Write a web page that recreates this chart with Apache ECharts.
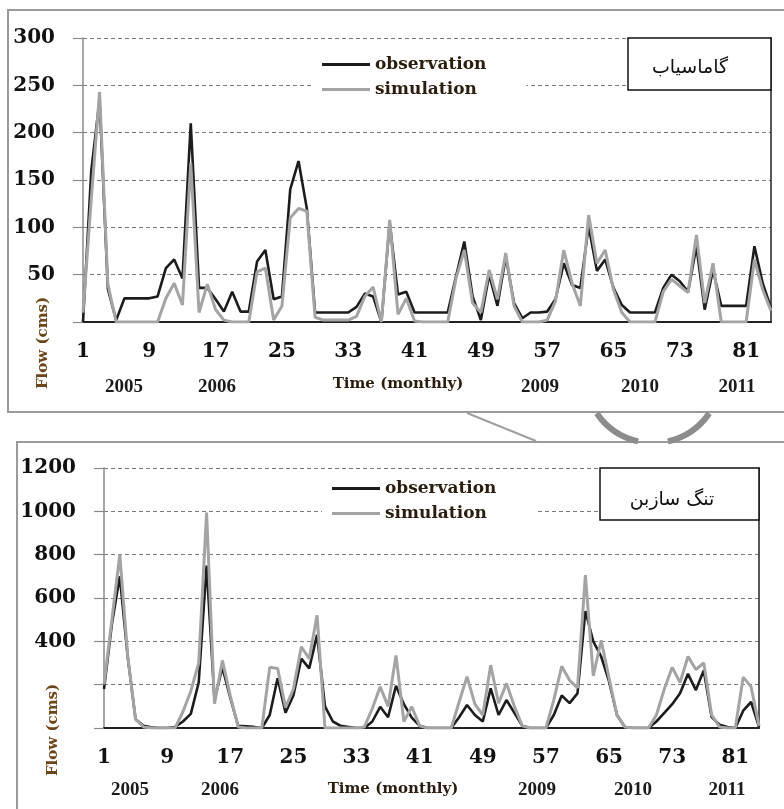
<!DOCTYPE html>
<html><head><meta charset="utf-8">
<script src="https://cdn.jsdelivr.net/npm/echarts@6/dist/echarts.min.js"></script>
<style>html,body{margin:0;padding:0;background:#fff}#c{width:784px;height:809px}</style>
</head><body><div id="c"></div>
<script>
const months = [1,2,3,4,5,6,7,8,9,10,11,12,13,14,15,16,17,18,19,20,21,22,23,24,25,26,27,28,29,30,31,32,33,34,35,36,37,38,39,40,41,42,43,44,45,46,47,48,49,50,51,52,53,54,55,56,57,58,59,60,61,62,63,64,65,66,67,68,69,70,71,72,73,74,75,76,77,78,79,80,81,82,83,84];
const seriesNames = ['observation', 'simulation'];
const stationTop = 'گاماسیاب';
const stationBottom = 'تنگ سازبن';
const yearLabels = ['2005', '2006', '2009', '2010', '2011'];
const xTitle = 'Time (monthly)';
const yTitle = 'Flow (cms)';

const gamasiabObs = [0,160,235,35,2,25,25,25,25,27, 57,66,46,210,36,36,24,11,32,11, 11,64,76,24,27,140,170,120,10,10, 10,10,10,16,30,27,0,105,29,32, 10,10,10,10,10,48,85,27,2,50, 17,69,20,4,10,10,11,24,62,39, 36,101,54,66,36,18,10,10,10,10, 36,50,43,32,80,13,55,17,17,17, 17,80,41,15];
const gamasiabSim = [10,130,243,40,0,0,0,0,0,0, 25,41,18,168,10,40,13,2,0,0, 0,53,57,2,17,110,120,117,5,2, 2,2,2,6,27,37,0,108,8,25, 1,0,0,0,0,46,76,20,10,55, 24,73,17,0,0,0,2,22,76,41, 17,113,62,76,34,10,0,0,0,0, 32,45,38,31,92,20,62,0,0,0, 0,66,34,12];
const tangObs = [180,480,700,330,40,10,3,0,0,5, 30,65,210,750,130,280,140,10,8,5, 0,60,230,70,150,320,275,430,100,30, 10,5,0,0,30,98,50,195,110,48, 10,0,0,0,0,50,106,60,30,183, 60,129,70,10,0,0,0,60,150,115, 160,540,400,330,215,60,5,0,0,0, 30,70,110,160,250,175,265,50,15,5, 0,80,120,5];
const tangSim = [200,500,800,335,40,5,0,0,0,0, 75,170,300,994,112,312,150,5,0,0, 0,280,275,95,180,375,320,520,0,0, 0,0,0,5,90,190,100,335,30,98, 10,0,0,0,0,120,237,110,60,290, 114,206,100,10,0,0,0,130,285,220, 185,706,240,405,230,60,5,0,0,0, 60,180,280,210,330,270,300,60,5,0, 0,235,190,10];

const OBS_COLOR = '#1c1c1c';
const SIM_COLOR = '#a4a4a4';
const serif = 'DejaVu Serif';
const labelFont = {fontFamily: serif, fontWeight: 'bold', fontSize: 20, color: '#111'};

function xAxes(gridIndex) {
  return [
    {type: 'category', gridIndex, data: months, boundaryGap: false,
     axisLine: {lineStyle: {color: '#8a8a8a', width: 1.5}}, axisTick: {show: false},
     axisLabel: Object.assign({interval: 7, margin: 20}, labelFont), splitLine: {show: false}},
    {type: 'category', gridIndex, data: months, boundaryGap: false, position: 'top',
     axisLine: {lineStyle: {color: '#222', width: 2}}, axisTick: {show: false},
     axisLabel: {show: false}, splitLine: {show: false}}
  ];
}
function yAxes(gridIndex, max, interval, hideBelow) {
  return [
    {type: 'value', gridIndex, min: 0, max, interval,
     axisLine: {show: true, lineStyle: {color: '#8a8a8a', width: 1.5}},
     axisTick: {show: true, inside: false, length: 10, lineStyle: {color: '#8a8a8a', width: 1.2}},
     axisLabel: Object.assign({margin: 28, formatter: v => (v <= hideBelow ? '' : String(v))}, labelFont),
     splitLine: {show: true, lineStyle: {color: '#7a7a7a', width: 1, type: [4, 3]}}},
    {type: 'value', gridIndex, min: 0, max, interval, position: 'right',
     axisLine: {show: true, lineStyle: {color: '#222', width: 1.5}}, axisTick: {show: false},
     axisLabel: {show: false}, splitLine: {show: false}}
  ];
}
function legend(left, top) {
  return {left, top, orient: 'vertical', itemWidth: 48, itemHeight: 3, itemGap: 8,
    backgroundColor: '#fff', padding: [4, 40, 4, 10],
    textStyle: {fontFamily: serif, fontWeight: 'bold', fontSize: 17, color: '#2a1d0e'},
    data: [{name: seriesNames[0], icon: 'rect'}, {name: seriesNames[1], icon: 'rect'}]};
}
function line(name, data, xi, yi, color, width) {
  return {type: 'line', name, data, xAxisIndex: xi, yAxisIndex: yi, symbol: 'none',
    lineStyle: {color, width}, itemStyle: {color}, animation: false};
}
function txt(x, y, text, font, extra) {
  return Object.assign({type: 'text', x, y, z: 20,
    style: Object.assign({text, fill: '#111', align: 'center', verticalAlign: 'middle'}, font)}, extra || {});
}
const yearFont = {fontFamily: 'Liberation Sans Narrow', fontWeight: 'bold', fontSize: 19, fill: '#1a1a1a'};
const titleFont = {fontFamily: serif, fontWeight: 'bold', fontSize: 15, fill: '#2a1d0e'};
const flowFont = {fontFamily: serif, fontWeight: 'bold', fontSize: 15, fill: '#6b4618'};
const persianFont = {fontFamily: 'DejaVu Sans', fontSize: 19, fill: '#111'};

const chart = echarts.init(document.getElementById('c'), null, {renderer: 'canvas'});
chart.setOption({
  animation: false,
  backgroundColor: '#fff',
  grid: [
    {left: 83, top: 38, width: 688, height: 284},
    {left: 104, top: 468, width: 655, height: 260}
  ],
  xAxis: [...xAxes(0), ...xAxes(1)],
  yAxis: [...yAxes(0, 300, 50, 0), ...yAxes(1, 1200, 200, 200)],
  legend: [legend(312, 52), legend(322, 476)],
  series: [
    line(seriesNames[0], gamasiabObs, 0, 0, OBS_COLOR, 2.6),
    line(seriesNames[1], gamasiabSim, 0, 0, SIM_COLOR, 3),
    line(seriesNames[0], tangObs, 2, 2, OBS_COLOR, 2.6),
    line(seriesNames[1], tangSim, 2, 2, SIM_COLOR, 3)
  ],
  graphic: [
    {type: 'rect', z: -20, shape: {x: 8, y: 10, width: 800, height: 402}, style: {fill: '#fff', stroke: '#9a9a9a', lineWidth: 2}},
    {type: 'rect', z: -20, shape: {x: 17, y: 442, width: 800, height: 420}, style: {fill: '#fff', stroke: '#9a9a9a', lineWidth: 2}},
    {type: 'arc', z: -10, shape: {cx: 653, cy: 375, r: 68, startAngle: 0.19 * Math.PI, endAngle: 0.43 * Math.PI},
     style: {stroke: '#8c8c8c', lineWidth: 6, fill: null}},
    {type: 'arc', z: -10, shape: {cx: 653, cy: 375, r: 68, startAngle: 0.57 * Math.PI, endAngle: 0.81 * Math.PI},
     style: {stroke: '#8c8c8c', lineWidth: 6, fill: null}},
    {type: 'line', z: -10, shape: {x1: 467, y1: 413, x2: 536, y2: 441}, style: {stroke: '#a0a0a0', lineWidth: 2}},
    {type: 'rect', z: 15, shape: {x: 628, y: 38, width: 143, height: 52}, style: {fill: '#fff', stroke: '#111', lineWidth: 1.5}},
    txt(690, 68, stationTop, persianFont),
    {type: 'rect', z: 15, shape: {x: 600, y: 468, width: 159, height: 52}, style: {fill: '#fff', stroke: '#111', lineWidth: 1.5}},
    txt(672, 500, stationBottom, persianFont),
    txt(124, 387, yearLabels[0], yearFont),
    txt(217, 387, yearLabels[1], yearFont),
    txt(540, 387, yearLabels[2], yearFont),
    txt(640, 387, yearLabels[3], yearFont),
    txt(737, 387, yearLabels[4], yearFont),
    txt(398, 384, xTitle, titleFont),
    txt(43, 343, yTitle, flowFont, {rotation: Math.PI / 2}),
    txt(130, 790, yearLabels[0], yearFont),
    txt(220, 790, yearLabels[1], yearFont),
    txt(537, 790, yearLabels[2], yearFont),
    txt(633, 790, yearLabels[3], yearFont),
    txt(727, 790, yearLabels[4], yearFont),
    txt(393, 789, xTitle, titleFont),
    txt(53, 730, yTitle, flowFont, {rotation: Math.PI / 2})
  ]
});
</script></body></html>
